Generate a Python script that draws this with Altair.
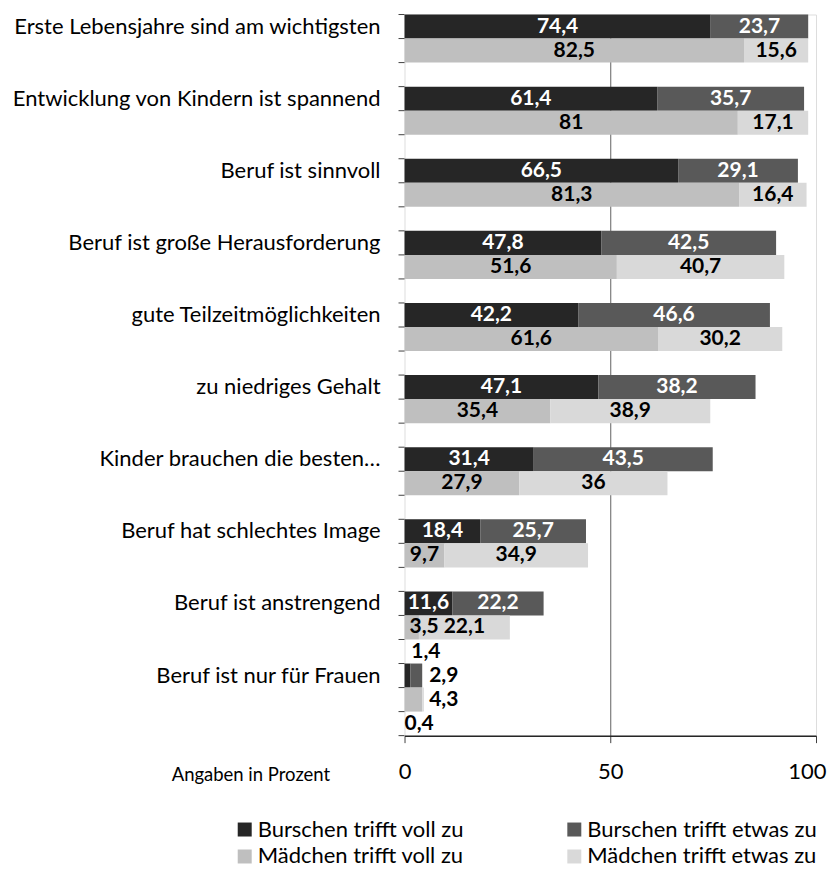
import altair as alt
import pandas as pd

categories = [
    "Erste Lebensjahre sind am wichtigsten",
    "Entwicklung von Kindern ist spannend",
    "Beruf ist sinnvoll",
    "Beruf ist große Herausforderung",
    "gute Teilzeitmöglichkeiten",
    "zu niedriges Gehalt",
    "Kinder brauchen die besten…",
    "Beruf hat schlechtes Image",
    "Beruf ist anstrengend",
    "Beruf ist nur für Frauen",
]
burschen_voll = [74.4, 61.4, 66.5, 47.8, 42.2, 47.1, 31.4, 18.4, 11.6, 1.4]
burschen_etwas = [23.7, 35.7, 29.1, 42.5, 46.6, 38.2, 43.5, 25.7, 22.2, 2.9]
maedchen_voll = [82.5, 81, 81.3, 51.6, 61.6, 35.4, 27.9, 9.7, 3.5, 4.3]
maedchen_etwas = [15.6, 17.1, 16.4, 40.7, 30.2, 38.9, 36, 34.9, 22.1, 0.4]
series = ["Burschen trifft voll zu", "Burschen trifft etwas zu",
          "Mädchen trifft voll zu", "Mädchen trifft etwas zu"]
colors = ["#262626", "#595959", "#bfbfbf", "#d9d9d9"]
x_ticks = [0, 50, 100]

FONT = "Lato"
FS = 22
VFS = 21

rows = []
n = len(categories)
for i, cat in enumerate(categories):
    groups = [
        ("B", burschen_voll[i], burschen_etwas[i], series[0], series[1]),
        ("M", maedchen_voll[i], maedchen_etwas[i], series[2], series[3]),
    ]
    for g, (grp, v, e, sv, se) in enumerate(groups):
        slot = 3 * i + g
        for part, (s, a, b, val) in enumerate([(sv, 0, v, v), (se, v, v + e, e)]):
            rows.append({
                "cat": cat, "grp": grp, "series": s, "part": part,
                "x0": a, "x1": b, "mid": (a + b) / 2,
                "y0": slot, "y1": slot + 1, "yc": slot + 0.5,
                "label": f"{val:g}".replace(".", ","),
                "special": i == n - 1,
            })
df = pd.DataFrame(rows)
cat_df = pd.DataFrame({"cat": categories, "yc": [3 * i + 0.5 for i in range(n)]})
tick_df = pd.DataFrame({"b": list(range(3 * n + 1))})

yscale = alt.Scale(domain=[0, 3 * n], reverse=True, nice=False, zero=False)
xscale = alt.Scale(domain=[0, 100], nice=False)

yaxis = alt.Axis(
    values=[0, 3 * n], labels=False, ticks=False,
    domainColor="#262626", domainWidth=1.2, grid=False, title=None,
)
last_tick = f"datum.value == {x_ticks[-1]}"
xaxis = alt.Axis(
    values=x_ticks, tickSize=7, tickColor="#404040", domainColor="#262626",
    domainWidth=1.5, labelPadding=19, labelFontSize=FS, labelFont=FONT,
    labelFlush=False, labelColor="#000000",
    labelAlign={"condition": {"test": last_tick, "value": "right"}, "value": "center"},
    labelOffset={"condition": {"test": last_tick, "value": 10}, "value": 0},
    grid=True, gridColor="#606060",
    gridOpacity={"condition": {"test": "datum.value == 50", "value": 1}, "value": 0},
    title="Angaben in Prozent", titleFont=FONT, titleFontSize=18.5,
    titleFontWeight="normal", titleColor="#000000", titleAngle=0,
    titleAlign="right", titleBaseline="middle", titleX=-75, titleY=39,
)

base = alt.Chart(df)

bars = base.mark_bar(cornerRadius=0).encode(
    x=alt.X("x0:Q", scale=xscale, axis=xaxis),
    x2="x1:Q",
    y=alt.Y("y0:Q", scale=yscale, axis=yaxis),
    y2="y1:Q",
    color=alt.Color(
        "series:N",
        scale=alt.Scale(domain=series, range=colors),
        legend=alt.Legend(
            orient="none", legendX=-171, legendY=805, columns=2,
            direction="horizontal", title=None,
            symbolType="square", symbolSize=196, symbolStrokeWidth=0,
            labelFont=FONT, labelFontSize=FS, labelColor="#000000",
            labelLimit=400, columnPadding=99, rowPadding=5, labelOffset=2,
        ),
    ),
)

# left axis ticks at every slot boundary
slot_ticks = alt.Chart(tick_df).mark_rule(color="#404040", strokeWidth=1).encode(
    y=alt.Y("b:Q", scale=yscale, axis=None),
    x=alt.value(-6), x2=alt.value(0),
)

cat_labels = alt.Chart(cat_df).mark_text(
    align="right", baseline="middle", font=FONT, fontSize=FS, color="#000000"
).encode(
    x=alt.value(-24),
    y=alt.Y("yc:Q", scale=yscale, axis=None),
    text="cat:N",
)

text_kw = dict(font=FONT, fontSize=VFS, fontWeight="bold")
yc = alt.Y("yc:Q", scale=yscale, axis=None)

labels = base.transform_filter("!datum.special && datum.mid >= 3").mark_text(
    align="center", baseline="middle", **text_kw
).encode(
    x="mid:Q", y=yc, text="label:N",
    color=alt.condition("datum.grp == 'B'", alt.value("#ffffff"), alt.value("#000000")),
)
# tiny segments in normal rows: label kept inside the plot, next to the axis
labels_small = base.transform_filter("!datum.special && datum.mid < 3").mark_text(
    align="left", baseline="middle", dx=5, **text_kw
).encode(
    x=alt.datum(0), y=yc, text="label:N",
    color=alt.condition("datum.grp == 'B'", alt.value("#ffffff"), alt.value("#000000")),
)

# last category: labels placed outside the tiny bars
sp_right = base.transform_filter(
    "datum.special && ((datum.grp == 'B' && datum.part == 1) || (datum.grp == 'M' && datum.part == 0))"
).mark_text(align="left", baseline="middle", dx=7, color="#000000", **text_kw).encode(
    x="x1:Q", y=yc, text="label:N")
sp_above = base.transform_filter(
    "datum.special && datum.grp == 'B' && datum.part == 0"
).mark_text(align="left", baseline="middle", dx=1, dy=-24, color="#000000", **text_kw).encode(
    x="x1:Q", y=yc, text="label:N")
sp_below = base.transform_filter(
    "datum.special && datum.grp == 'M' && datum.part == 1"
).mark_text(align="left", baseline="middle", dx=0, dy=24, color="#000000", **text_kw).encode(
    x=alt.datum(0), y=yc, text="label:N")

chart = alt.layer(
    bars, slot_ticks, cat_labels, labels, labels_small, sp_right, sp_above, sp_below
).properties(
    width=412, height=722,
    autosize=alt.AutoSizeParams(type="none"),
    padding={"left": 397, "top": 6, "right": 12, "bottom": 134},
).configure_view(
    fill="#f2f2f2", stroke="#9a9a9a", strokeWidth=2,
).configure(background="#ffffff")

chart.save("out.html", embed_options={"renderer": "svg", "actions": False})
